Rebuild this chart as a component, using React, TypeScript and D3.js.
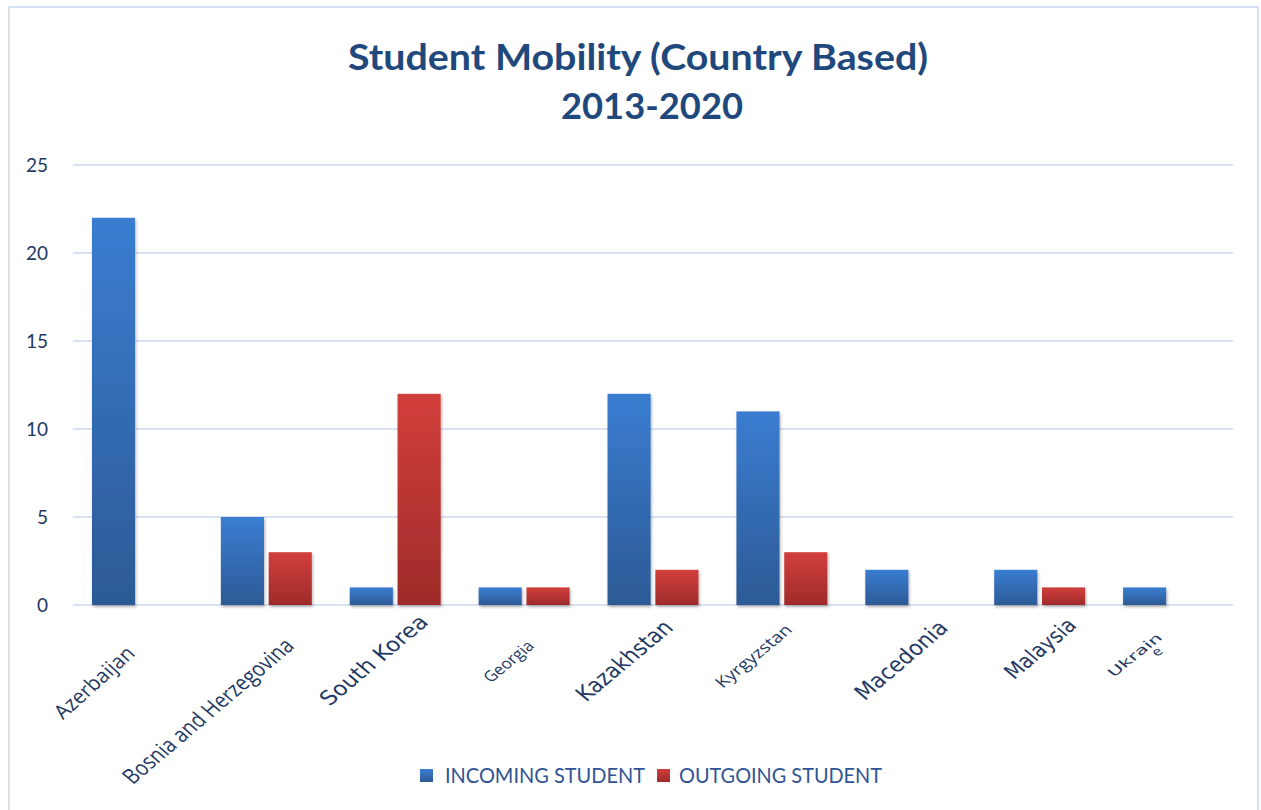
import React from "react";
import * as d3 from "d3";

const categories = [
  "Azerbaijan",
  "Bosnia and Herzegovina",
  "South Korea",
  "Georgia",
  "Kazakhstan",
  "Kyrgyzstan",
  "Macedonia",
  "Malaysia",
  "Ukraine",
];
const incoming = [22, 5, 1, 1, 12, 11, 2, 2, 1];
const outgoing = [0, 3, 12, 1, 2, 3, 0, 1, 0];
const seriesNames = ["INCOMING STUDENT", "OUTGOING STUDENT"];
const yTicks = [0, 5, 10, 15, 20, 25];

const W = 1261;
const H = 810;
const plot = { left: 73, right: 1233, top: 165, bottom: 605 };

// label styling (per category): offsets from band centre to label midpoint,
// horizontal stretch, font size, text length (before stretch)
const labelStyle = [
  { fs: 20, fam: "'Open Sans', sans-serif", len: 93, dx: -43.4, dy: 77.5, sx: 1.11 },
  { fs: 21, fam: "'Open Sans', sans-serif", len: 195, dx: -58.3, dy: 106, sx: 1.18 },
  { fs: 20, fam: "'DejaVu Sans', sans-serif", len: 118, dx: -21.7, dy: 55, sx: 1.2 },
  { fs: 15, fam: "'Open Sans', sans-serif", len: 52, dx: -15.6, dy: 56.5, sx: 1.21 },
  { fs: 21, fam: "'DejaVu Sans', sans-serif", len: 104, dx: -29, dy: 55.5, sx: 1.2 },
  { fs: 15, fam: "'Open Sans', sans-serif", len: 82, dx: -28.4, dy: 51, sx: 1.22 },
  { fs: 21, fam: "'DejaVu Sans', sans-serif", len: 102, dx: -9.8, dy: 55, sx: 1.17 },
  { fs: 20, fam: "'DejaVu Sans', sans-serif", len: 76, dx: 0.3, dy: 43.5, sx: 1.19 },
  { fs: 12, fam: "'DejaVu Sans', sans-serif", len: 56, dx: -28.6, dy: 50, sx: 1.25 },
];

export default function App() {
  const x0 = d3
    .scaleBand<string>()
    .domain(categories)
    .range([plot.left, plot.right])
    .paddingInner(0)
    .paddingOuter(0);
  const step = x0.bandwidth();
  const inner = d3
    .scaleBand<string>()
    .domain(seriesNames)
    .range([(19 / 129) * step, step - (19 / 129) * step])
    .paddingInner(9 / 91);
  const y = d3.scaleLinear().domain([0, 25]).range([plot.bottom, plot.top]);

  const textColor = "#1f3864";
  const titleColor = "#1f497d";

  return (
    <svg
      width={W}
      height={H}
      style={{ position: "absolute", left: 0, top: 0, background: "#fff" }}
    >
      <defs>
        <linearGradient id="gBlue" x1="0" y1="0" x2="0" y2="1">
          <stop offset="0" stopColor="#3a7dd1" />
          <stop offset="1" stopColor="#2c5a95" />
        </linearGradient>
        <linearGradient id="gRed" x1="0" y1="0" x2="0" y2="1">
          <stop offset="0" stopColor="#d23f3b" />
          <stop offset="1" stopColor="#9e2b2a" />
        </linearGradient>
        <filter id="shadow" x="-20%" y="-20%" width="140%" height="140%">
          <feDropShadow dx="1" dy="2" stdDeviation="1.5" floodColor="#000" floodOpacity="0.3" />
        </filter>
      </defs>
      <rect x={9} y={7} width={1249} height={820} fill="#fff" stroke="#d6e0f1" strokeWidth={2} />

      <text
        x={638}
        y={70}
        textAnchor="middle"
        fontFamily="Lato, sans-serif"
        fontWeight="bold"
        fontSize={36}
        fill={titleColor}
        textLength={580}
        lengthAdjust="spacingAndGlyphs"
      >
        Student Mobility (Country Based)
      </text>
      <text
        x={652}
        y={119}
        textAnchor="middle"
        fontFamily="Lato, sans-serif"
        fontWeight="bold"
        fontSize={36}
        fill={titleColor}
        textLength={182}
        lengthAdjust="spacingAndGlyphs"
      >
        2013-2020
      </text>

      {yTicks.map((t) => (
        <g key={t}>
          <line
            x1={plot.left}
            x2={plot.right}
            y1={y(t)}
            y2={y(t)}
            stroke="#d9e2f3"
            strokeWidth={2}
          />
          <text
            x={48}
            y={y(t)}
            dy="0.35em"
            textAnchor="end"
            fontFamily="Lato, sans-serif"
            fontSize={19}
            fill={textColor}
          >
            {t}
          </text>
        </g>
      ))}

      {categories.map((c, i) => {
        const vals = [incoming[i], outgoing[i]];
        return (
          <g key={c} transform={`translate(${x0(c)},0)`}>
            {vals.map((v, j) =>
              v > 0 ? (
                <rect
                  key={j}
                  x={inner(seriesNames[j])}
                  y={y(v)}
                  width={inner.bandwidth()}
                  height={y(0) - y(v)}
                  fill={j === 0 ? "url(#gBlue)" : "url(#gRed)"}
                  filter="url(#shadow)"
                />
              ) : null
            )}
          </g>
        );
      })}

      {categories.map((c, i) => {
        const s = labelStyle[i];
        const cx = (x0(c) as number) + step / 2 + s.dx;
        const cy = plot.bottom + s.dy;
        const tf = `translate(${cx},${cy}) scale(${s.sx},1) rotate(-45)`;
        if (c === "Ukraine") {
          return (
            <g key={c} transform={tf}>
              <text
                x={-3}
                y={0}
                dy="0.1em"
                textAnchor="middle"
                fontFamily={s.fam}
                fontSize={s.fs}
                fill={textColor}
                textLength={s.len}
                lengthAdjust="spacingAndGlyphs"
              >
                Ukrain
              </text>
              <text
                x={12}
                y={0}
                dy="0.95em"
                textAnchor="middle"
                fontFamily={s.fam}
                fontSize={s.fs}
                fill={textColor}
              >
                e
              </text>
            </g>
          );
        }
        return (
          <text
            key={c}
            transform={tf}
            textAnchor="middle"
            dy="0.35em"
            fontFamily={s.fam}
            fontSize={s.fs}
            fill={textColor}
            textLength={s.len}
            lengthAdjust="spacingAndGlyphs"
          >
            {c}
          </text>
        );
      })}

      <g>
        <rect x={420} y={769} width={13} height={13} fill="url(#gBlue)" />
        <text
          x={445}
          y={783}
          fontFamily="Lato, sans-serif"
          fontSize={21}
          fill="#2f5496"
          textLength={200}
          lengthAdjust="spacingAndGlyphs"
        >
          {seriesNames[0]}
        </text>
        <rect x={657} y={769} width={13} height={13} fill="url(#gRed)" />
        <text
          x={679}
          y={783}
          fontFamily="Lato, sans-serif"
          fontSize={21}
          fill="#2f5496"
          textLength={203}
          lengthAdjust="spacingAndGlyphs"
        >
          {seriesNames[1]}
        </text>
      </g>
    </svg>
  );
}
